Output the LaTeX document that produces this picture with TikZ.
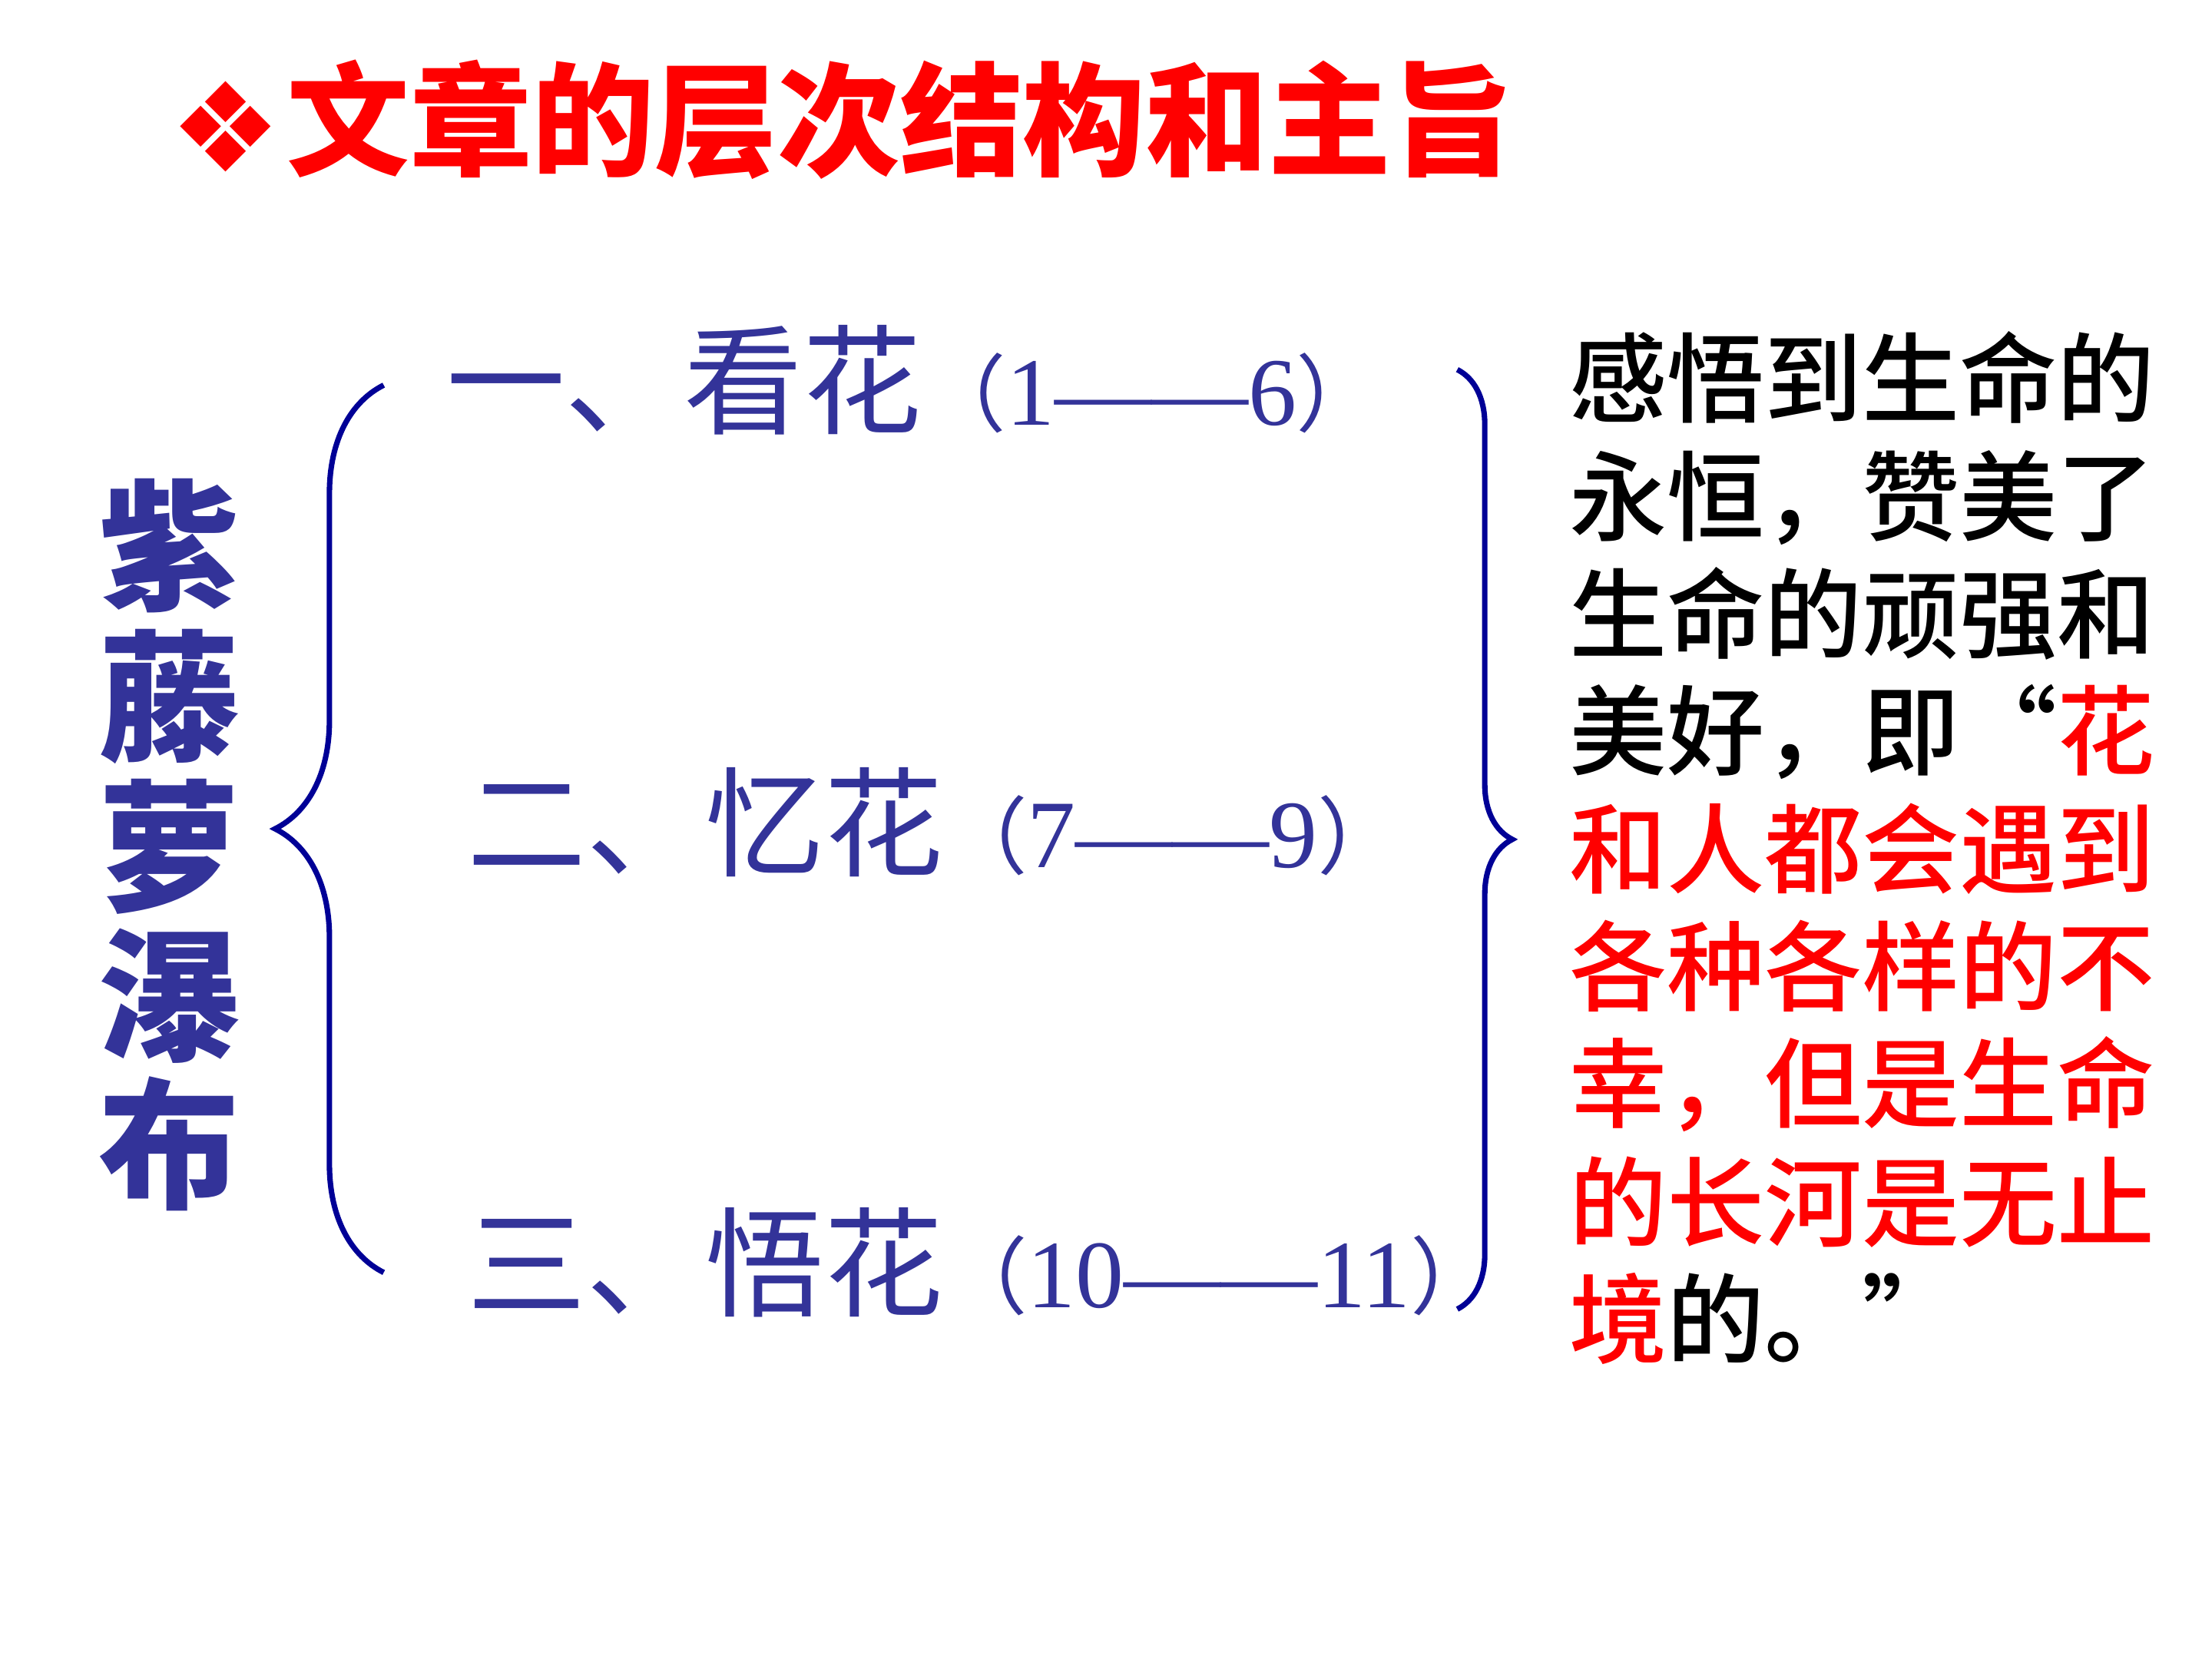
\documentclass[tikz,border=0pt]{standalone}
\usepackage{fontspec}
\usepackage{tikz}
\usetikzlibrary{positioning,calc,decorations.pathreplacing}
\newfontfamily\cjk{Noto Sans CJK SC}
\newfontfamily\cjkmed{Noto Sans CJK SC Medium}
\newfontfamily\symfont{DejaVu Sans}
\newfontfamily\numfont{Liberation Serif}
\definecolor{cRed}{RGB}{255,0,0}
\definecolor{cItem}{RGB}{51,51,153}
\definecolor{cBrace}{RGB}{0,0,150}
\tikzset{
	tsym/.style={inner sep=0pt, text=cRed,
		font=\symfont\fontsize{50pt}{50pt}\selectfont},
	ttl/.style={inner sep=0pt, text=cRed, anchor=west,
		font=\cjk\bfseries\fontsize{49.5pt}{49.5pt}\selectfont},
	vlab/.style={inner sep=0pt, text=cItem,
		font=\cjk\bfseries\fontsize{57pt}{57pt}\selectfont},
	sec/.style={inner sep=0pt, anchor=west, text=cItem,
		text height=40pt, text depth=3.4pt,
		font=\cjk\fontsize{48pt}{48pt}\selectfont},
	theme/.style={inner sep=0pt, anchor=west, text=black,
		text height=32.7pt, text depth=2.8pt,
		font=\cjkmed\fontsize{39.4pt}{39.4pt}\selectfont},
	brc/.style={draw=cBrace, line width=2.2pt, decorate},
}
\newcommand\secn[2]{{\fontsize{34pt}{34pt}\selectfont （{\numfont\fontsize{39pt}{39pt}\selectfont #1——#2}）}}
\newcommand\hl[1]{{\color{cRed}#1}}

\begin{document}
\begin{tikzpicture}[x=0.02cm, y=-0.02cm]
	\useasboundingbox[fill=white] (0,0) rectangle (1568,1176);
	% title
	\node[tsym] (mark) at (160,90) {❖};
	\node[ttl] (title) at (203,85) {文章的层次结构和主旨};
	% left label
	\node[vlab] (zi) at (120,387) {紫};
	\node[vlab] (teng) at (120,494) {藤};
	\node[vlab] (luo) at (120,600) {萝};
	\node[vlab] (pu) at (120,706) {瀑};
	\node[vlab] (bu) at (120,811) {布};
	% sections
	\node[sec] (kan) at (316,269) {一、看花\secn{1}{6}};
	\node[sec] (yi) at (331,583) {二、忆花\secn{7}{9}};
	\node[sec] (wu) at (331,895) {三、悟花\secn{10}{11}};
	% braces
	\coordinate (lbtop) at (272,273);
	\coordinate (lbbot) at (272,902);
	\coordinate (rbtop) at (1033,262);
	\coordinate (rbbot) at (1033,928);
	\draw[brc, decoration={brace, amplitude=1.54cm}] (lbbot) -- (lbtop);
	\draw[brc, decoration={brace, amplitude=0.78cm}] (rbtop) -- (rbbot);
	% theme
	\node[theme] (t1) at (1112,268) {感悟到生命的};
	\node[theme] (t2) at (1112,352) {永恒，赞美了};
	\node[theme] (t3) at (1112,435) {生命的顽强和};
	\node[theme] (t4) at (1112,518) {美好，即\makebox[1em][r]{“}\hl{花}};
	\node[theme] (t5) at (1112,602) {\hl{和人都会遇到}};
	\node[theme] (t6) at (1112,685) {\hl{各种各样的不}};
	\node[theme] (t7) at (1112,768) {\hl{幸，但是生命}};
	\node[theme] (t8) at (1112,852) {\hl{的长河是无止}};
	\node[theme] (t9) at (1112,935) {\hl{境}的。\makebox[1em][l]{”}};
\end{tikzpicture}
\end{document}
